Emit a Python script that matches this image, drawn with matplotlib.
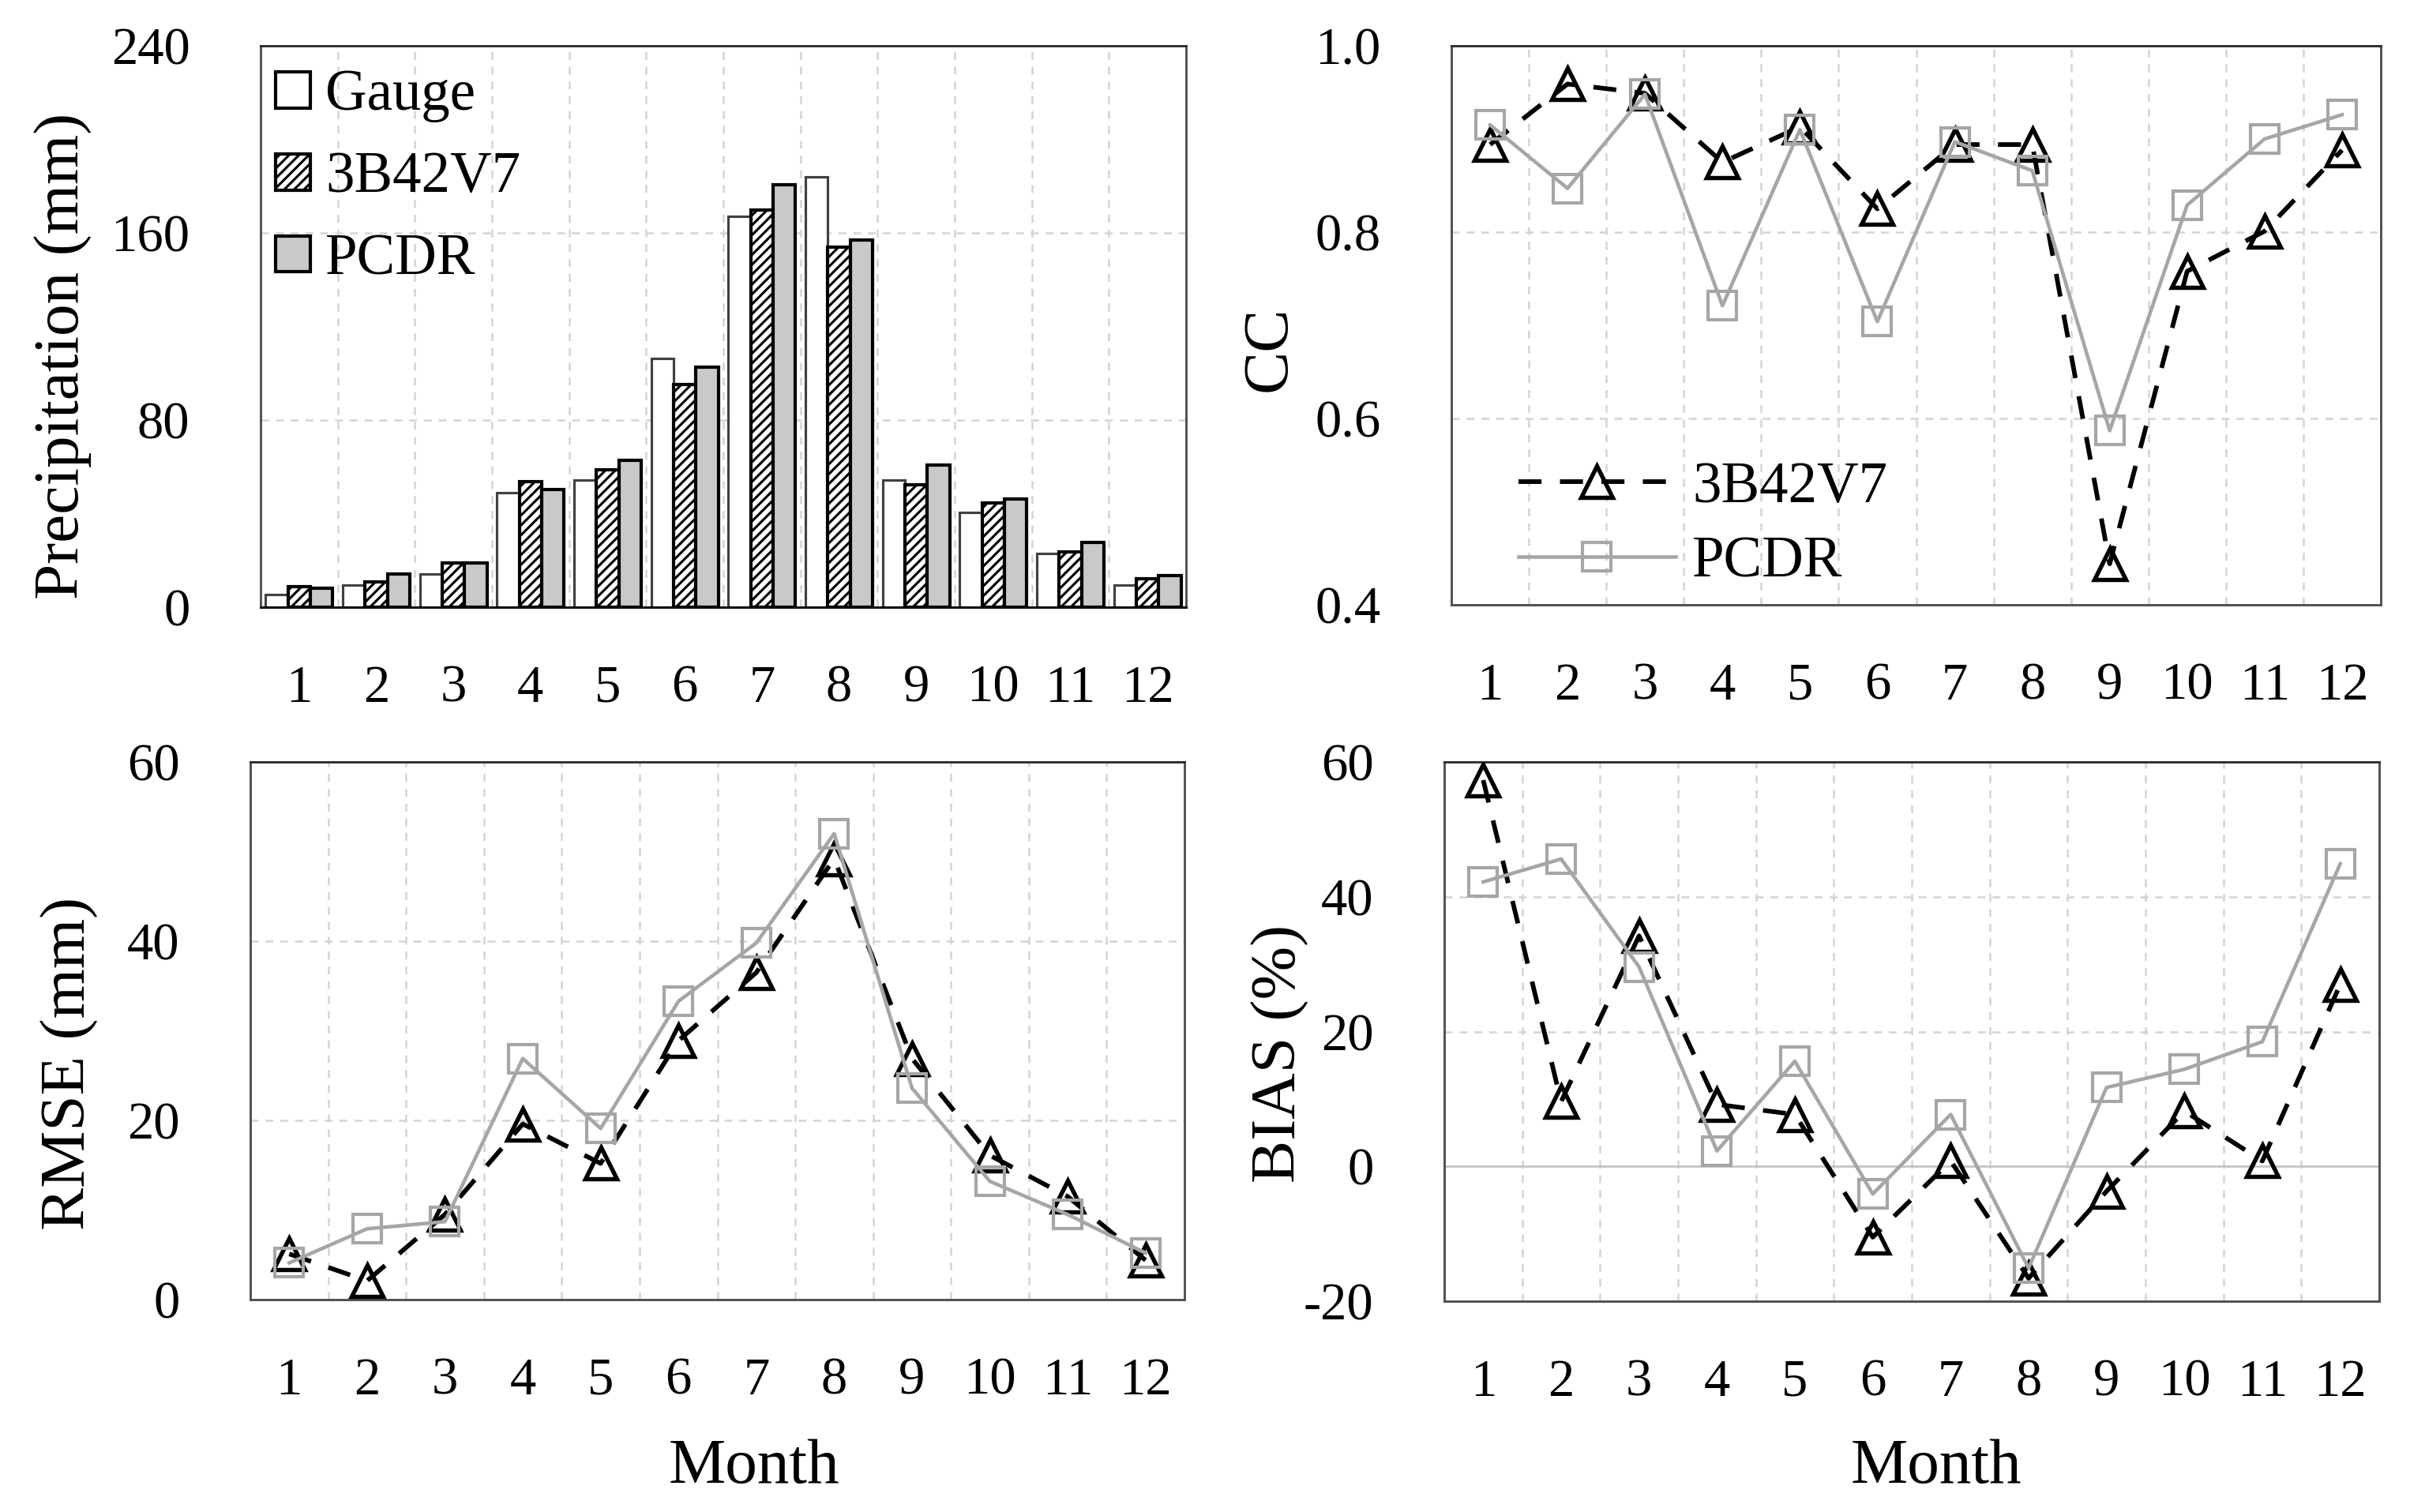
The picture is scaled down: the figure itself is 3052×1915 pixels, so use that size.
import matplotlib
matplotlib.use("Agg")
import matplotlib.pyplot as plt
from matplotlib.patches import Patch

# ---------------- data ----------------
months = [1, 2, 3, 4, 5, 6, 7, 8, 9, 10, 11, 12]
month_labels = ["1", "2", "3", "4", "5", "6", "7", "8", "9", "10", "11", "12"]

precip_gauge = [5.4, 9.3, 14.3, 48.8, 54.2, 106.4, 167.0, 183.9, 54.2, 40.6, 22.8, 9.3]
precip_3b42 = [8.7, 10.8, 19.0, 53.8, 58.6, 95.2, 169.7, 153.9, 52.3, 44.5, 23.6, 12.2]
precip_pcdr = [8.1, 14.1, 19.0, 50.3, 62.9, 102.6, 180.6, 156.8, 60.6, 46.4, 27.7, 13.5]

cc_3b42 = [0.894, 0.959, 0.949, 0.875, 0.913, 0.825, 0.894, 0.894, 0.444, 0.758, 0.801, 0.888]
cc_pcdr = [0.915, 0.847, 0.948, 0.721, 0.910, 0.704, 0.897, 0.866, 0.587, 0.829, 0.900, 0.926]

rmse_3b42 = [5.1, 2.1, 9.5, 19.6, 15.2, 28.9, 36.5, 49.2, 26.9, 16.1, 11.5, 4.4]
rmse_pcdr = [4.1, 7.9, 8.7, 26.9, 19.1, 33.3, 39.8, 52.0, 23.6, 13.2, 9.5, 5.2]

bias_3b42 = [57.3, 9.6, 34.2, 9.2, 7.7, -10.5, 0.8, -16.6, -3.7, 8.2, 0.8, 27.0]
bias_pcdr = [42.2, 45.6, 29.6, 2.3, 15.6, -4.1, 7.7, -15.1, 11.7, 14.4, 18.5, 44.9]

precip_ticks = [0, 80, 160, 240]
precip_ticklabels = ["0", "80", "160", "240"]
cc_ticks = [0.4, 0.6, 0.8, 1.0]
cc_ticklabels = ["0.4", "0.6", "0.8", "1.0"]
rmse_ticks = [0, 20, 40, 60]
rmse_ticklabels = ["0", "20", "40", "60"]
bias_ticks = [-20, 0, 20, 40, 60]
bias_ticklabels = ["-20", "0", "20", "40", "60"]

series_names = ["Gauge", "3B42V7", "PCDR"]

# ---------------- style ----------------
W, H, DPI = 3052, 1915, 150
plt.rcParams["font.family"] = ["Liberation Serif", "DejaVu Serif"]
plt.rcParams["hatch.linewidth"] = 1.5
TICK_FS = 32
LEG_FS = 35
LAB_FS = 39
GRID_C = "#d4d4d4"
GRAY = "#a6a6a6"
PCDR_FILL = "#c9c9c9"
SPINE_C = "#505050"
HATCH = "////"

fig = plt.figure(figsize=(W / DPI, H / DPI), dpi=DPI)


def px_axes(left, right, top, bottom):
    return fig.add_axes([left / W, 1 - bottom / H, (right - left) / W, (bottom - top) / H])


def style_axes(ax, ylim, ticks, ticklabels, hgrid):
    ax.set_xlim(0.5, 12.5)
    ax.set_ylim(*ylim)
    ax.set_xticks(months)
    ax.set_xticklabels(month_labels)
    ax.set_yticks(ticks)
    ax.set_yticklabels(ticklabels)
    ax.tick_params(axis="both", length=0, labelsize=TICK_FS, colors="black")
    ax.tick_params(axis="x", pad=35)
    ax.tick_params(axis="y", pad=43)
    for b in [m + 0.5 for m in months[:-1]]:
        ax.axvline(b, color=GRID_C, lw=1.2, dashes=(4, 3.5), zorder=0)
    for g in hgrid:
        ax.axhline(g, color=GRID_C, lw=1.2, dashes=(4, 3.5), zorder=0)
    for s in ax.spines.values():
        s.set_color(SPINE_C)
        s.set_linewidth(1.4)
    ax.spines["top"].set_color("#303030")


# ---------------- panel 1: precipitation bars ----------------
ax1 = px_axes(330, 1502, 58, 769)
bw = 0.29
x = months
ax1.bar([m - bw for m in x], precip_gauge, bw, color="white", edgecolor="#404040",
        linewidth=1.5, zorder=2)
ax1.bar(x, precip_3b42, bw, color="white", edgecolor="black", hatch=HATCH,
        linewidth=2.0, zorder=2)
ax1.bar([m + bw for m in x], precip_pcdr, bw, color=PCDR_FILL, edgecolor="black",
        linewidth=2.0, zorder=2)
style_axes(ax1, (0, 240), precip_ticks, precip_ticklabels, [80, 160])
ax1.spines["bottom"].set_color("black")
leg_handles = [
    Patch(facecolor="white", edgecolor="black", linewidth=2.0),
    Patch(facecolor="white", edgecolor="black", linewidth=2.0, hatch=HATCH),
    Patch(facecolor=PCDR_FILL, edgecolor="black", linewidth=2.0),
]
ax1.legend(leg_handles, series_names, loc="upper left", bbox_to_anchor=(0.016, 0.958),
           frameon=False, fontsize=LEG_FS, handlelength=0.6, handleheight=0.59,
           handletextpad=0.27, labelspacing=0.5, borderpad=0, borderaxespad=0)


def line_panel(ax, y3b42, ypcdr):
    ax.plot(months, y3b42, color="black", lw=2.8, dashes=(5, 4), marker="^",
            ms=19, mfc="none", mec="black", mew=2.6, zorder=3, label=series_names[1])
    ax.plot(months, ypcdr, color=GRAY, lw=2.2, marker="s", ms=17.5, mfc="none",
            mec=GRAY, mew=2.0, zorder=4, label=series_names[2])


# ---------------- panel 2: CC ----------------
ax2 = px_axes(1838, 3015, 58, 766)
line_panel(ax2, cc_3b42, cc_pcdr)
style_axes(ax2, (0.4, 1.0), cc_ticks, cc_ticklabels, [0.6, 0.8])
ax2.legend(loc="upper left", bbox_to_anchor=(0.072, 0.257), frameon=False,
           fontsize=LEG_FS, handlelength=2.73, handletextpad=0.29, labelspacing=0.37,
           borderpad=0, borderaxespad=0, numpoints=1)

# ---------------- panel 3: RMSE ----------------
ax3 = px_axes(317, 1500, 965, 1646)
line_panel(ax3, rmse_3b42, rmse_pcdr)
style_axes(ax3, (0, 60), rmse_ticks, rmse_ticklabels, [20, 40])

# ---------------- panel 4: BIAS ----------------
ax4 = px_axes(1829, 3013, 965, 1648)
line_panel(ax4, bias_3b42, bias_pcdr)
style_axes(ax4, (-20, 60), bias_ticks, bias_ticklabels, [20, 40])
ax4.axhline(0, color="#bfbfbf", lw=1.2, zorder=1)

# ---------------- axis titles ----------------
def ftext(xp, yp, s, rot=0):
    fig.text(xp / W, 1 - yp / H, s, fontsize=LAB_FS, rotation=rot, ha="center",
             va="center")


ftext(80, 451, "Precipitation (mm)", 90)
ftext(1608, 442, "CC", 90)
ftext(88, 1347, "RMSE (mm)", 90)
ftext(1621, 1334, "BIAS (%)", 90)
ftext(955, 1858, "Month")
ftext(2452, 1858, "Month")

fig.savefig("out.png", dpi=DPI)
